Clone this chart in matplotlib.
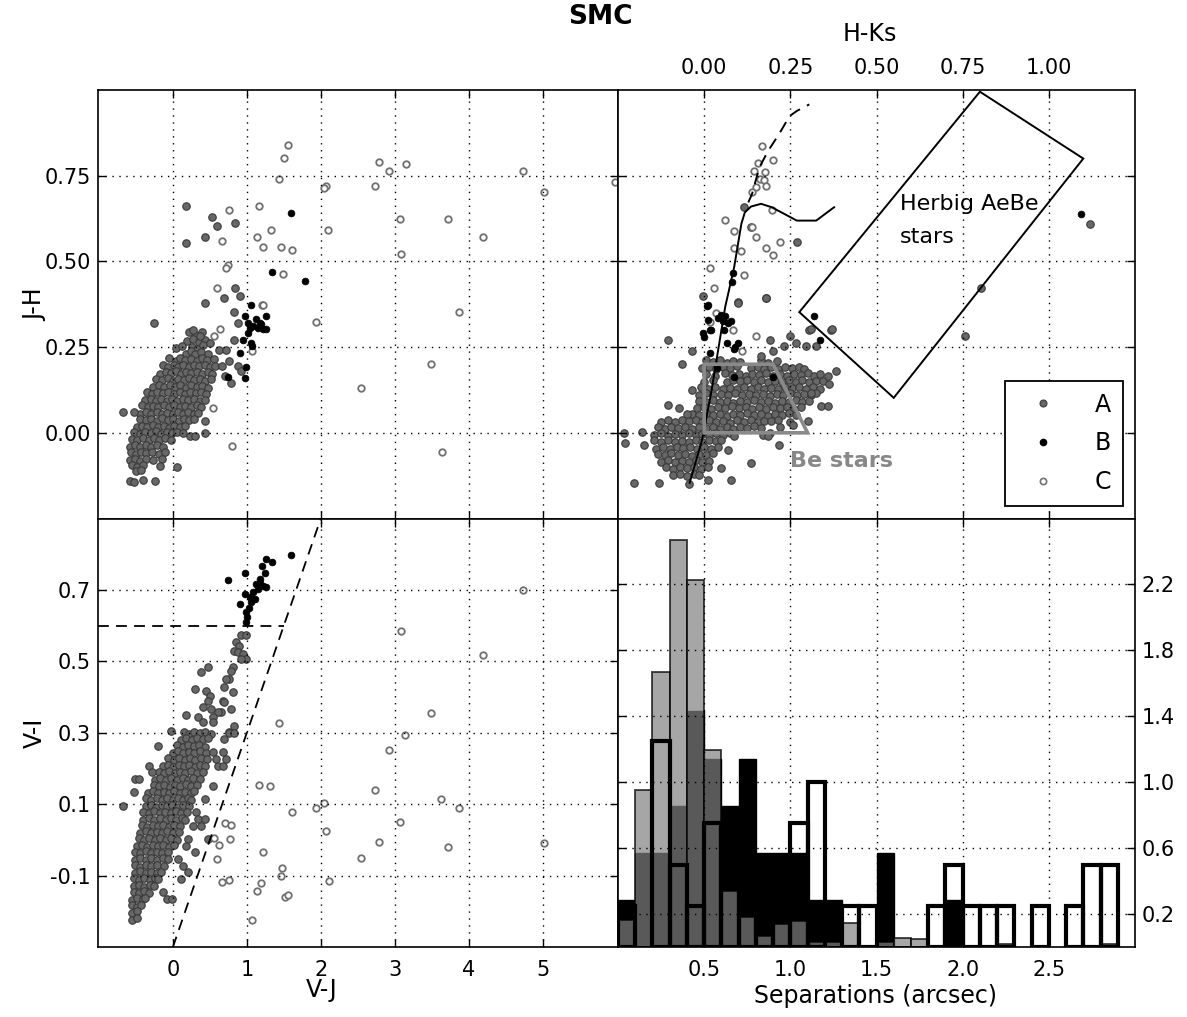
import numpy as np
import matplotlib
matplotlib.use('Agg')
import matplotlib.pyplot as plt
from matplotlib.lines import Line2D
from matplotlib.patches import Polygon

plt.rcParams['font.family'] = ['DejaVu Sans']
plt.rcParams['axes.unicode_minus'] = False

# ---------------- top-left panel: V-J vs J-H ----------------
tl_A = [
    (0.22, 0.293), (0.31, 0.286), (0.39, 0.295),
    (0.19, 0.268), (0.27, 0.274), (0.35, 0.266), (0.43, 0.272),
    (0.04, 0.247), (0.12, 0.254), (0.26, 0.251), (0.33, 0.245), (0.41, 0.256),
    (0.18, 0.230), (0.24, 0.238), (0.30, 0.229), (0.38, 0.236), (0.47, 0.231),
    (-0.05, 0.217), (0.04, 0.210), (0.10, 0.219), (0.16, 0.212), (0.25, 0.216), (0.32, 0.209), (0.39, 0.218), (0.46, 0.212), (0.55, 0.216),
    (-0.14, 0.197), (-0.07, 0.192), (0.01, 0.199), (0.07, 0.193), (0.14, 0.198), (0.22, 0.191), (0.28, 0.197), (0.35, 0.194), (0.43, 0.199), (0.50, 0.191), (0.57, 0.196),
    (-0.18, 0.172), (-0.10, 0.178), (-0.03, 0.174), (0.04, 0.179), (0.11, 0.171), (0.18, 0.177), (0.25, 0.173), (0.33, 0.178), (0.40, 0.172), (0.47, 0.176), (0.53, 0.171),
    (-0.23, 0.158), (-0.15, 0.153), (-0.07, 0.159), (0.00, 0.152), (0.07, 0.157), (0.15, 0.154), (0.22, 0.160), (0.29, 0.153), (0.36, 0.158), (0.43, 0.152), (0.51, 0.157),
    (-0.27, 0.133), (-0.19, 0.139), (-0.12, 0.134), (-0.04, 0.140), (0.03, 0.133), (0.10, 0.138), (0.18, 0.132), (0.25, 0.139), (0.32, 0.134), (0.40, 0.137), (0.47, 0.131),
    (-0.35, 0.119), (-0.28, 0.114), (-0.21, 0.120), (-0.13, 0.115), (-0.06, 0.119), (0.02, 0.113), (0.09, 0.118), (0.16, 0.114), (0.23, 0.120), (0.31, 0.115), (0.38, 0.119), (0.45, 0.114),
    (-0.38, 0.095), (-0.30, 0.100), (-0.23, 0.094), (-0.16, 0.099), (-0.08, 0.093), (-0.01, 0.098), (0.06, 0.094), (0.14, 0.100), (0.21, 0.095), (0.28, 0.099), (0.36, 0.093), (0.43, 0.097),
    (-0.42, 0.080), (-0.34, 0.075), (-0.27, 0.079), (-0.20, 0.074), (-0.12, 0.081), (-0.05, 0.076), (0.02, 0.080), (0.10, 0.074), (0.17, 0.079), (0.24, 0.075), (0.32, 0.080), (0.38, 0.076),
    (-0.45, 0.056), (-0.37, 0.061), (-0.30, 0.055), (-0.22, 0.060), (-0.15, 0.054), (-0.08, 0.059), (0.00, 0.055), (0.07, 0.061), (0.14, 0.056), (0.21, 0.060), (0.28, 0.054), (0.34, 0.058),
    (-0.44, 0.041), (-0.37, 0.036), (-0.29, 0.040), (-0.22, 0.035), (-0.15, 0.042), (-0.07, 0.037), (0.00, 0.041), (0.08, 0.035), (0.15, 0.040), (0.22, 0.036), (0.29, 0.041),
    (-0.49, 0.016), (-0.42, 0.021), (-0.35, 0.017), (-0.27, 0.022), (-0.20, 0.016), (-0.12, 0.020), (-0.05, 0.015), (0.02, 0.021), (0.10, 0.017), (0.17, 0.020),
    (-0.52, 0.002), (-0.45, -0.003), (-0.38, 0.003), (-0.30, -0.002), (-0.23, 0.004), (-0.16, -0.003), (-0.08, 0.002), (-0.01, -0.002), (0.06, 0.003), (0.13, -0.001),
    (-0.55, -0.017), (-0.48, -0.022), (-0.41, -0.016), (-0.33, -0.021), (-0.26, -0.015), (-0.19, -0.020), (-0.11, -0.016), (-0.03, -0.022),
    (-0.58, -0.041), (-0.51, -0.036), (-0.44, -0.042), (-0.37, -0.037), (-0.29, -0.041), (-0.21, -0.036), (-0.13, -0.040),
    (-0.57, -0.056), (-0.50, -0.061), (-0.43, -0.055), (-0.36, -0.060), (-0.28, -0.056), (-0.19, -0.061), (-0.11, -0.055),
    (-0.58, -0.080), (-0.51, -0.075), (-0.44, -0.081), (-0.36, -0.076), (-0.27, -0.079), (-0.15, -0.077),
    (-0.55, -0.095), (-0.48, -0.100), (-0.40, -0.094), (-0.17, -0.098),
    (-0.50, -0.112), (-0.43, -0.108),
    (-0.58, -0.141), (-0.53, -0.143), (-0.40, -0.139), (-0.24, -0.140),
    (0.44, 0.379), (0.83, 0.352), (0.875, 0.321), (0.83, 0.27), (0.27, 0.30), (-0.26, 0.321),
    (0.36, 0.282), (0.63, 0.241), (0.72, 0.241), (0.67, 0.195), (0.70, 0.165), (0.79, 0.146),
    (0.76, 0.209), (0.875, 0.195), (0.92, 0.18), (0.50, 0.263), (-0.68, 0.06), (-0.52, 0.06),
    (0.06, -0.10), (0.44, 0.0), (0.23, -0.01), (0.30, -0.01), (0.44, 0.034),
    (0.18, 0.662), (0.18, 0.553), (0.53, 0.63), (0.60, 0.603), (0.835, 0.611), (0.438, 0.572),
    (0.835, 0.423), (0.69, 0.392), (0.907, 0.40),
]
tl_B = [
    (1.593, 0.642), (1.340, 0.470), (1.792, 0.444), (1.051, 0.373), (0.979, 0.341), (1.254, 0.341),
    (1.173, 0.321), (1.083, 0.311), (1.218, 0.304), (1.264, 0.304), (1.015, 0.292), (0.948, 0.270),
    (1.060, 0.263), (1.074, 0.253), (0.903, 0.232), (0.993, 0.193), (0.745, 0.162), (0.979, 0.161),
    (1.015, 0.321), (1.128, 0.331), (1.196, 0.316), (1.151, 0.306), (1.038, 0.306),
]
tl_C = [
    (1.557, 0.841), (1.503, 0.803), (1.431, 0.740), (2.784, 0.791), (2.924, 0.764), (3.150, 0.783),
    (4.729, 0.764), (5.979, 0.733), (2.730, 0.721), (2.076, 0.721), (2.040, 0.713), (5.023, 0.701),
    (1.160, 0.663), (0.763, 0.650), (0.668, 0.560), (3.069, 0.623), (3.723, 0.623), (2.098, 0.591),
    (1.322, 0.591), (1.142, 0.572), (1.214, 0.541), (1.467, 0.541), (1.611, 0.533), (3.091, 0.521),
    (4.188, 0.572), (0.745, 0.490), (0.722, 0.482), (1.485, 0.463), (0.600, 0.423), (3.867, 0.353),
    (1.936, 0.322), (1.200, 0.373), (1.215, 0.373), (0.632, 0.303), (0.560, 0.283), (1.070, 0.240),
    (3.488, 0.201), (2.550, 0.130), (0.537, 0.071), (0.799, -0.038), (3.633, -0.057),
]

# ---------------- bottom-left panel: V-J vs V-I ----------------
bl_A = [
    (0.92, 0.574), (0.987, 0.574), (0.853, 0.553), (0.897, 0.544), (0.83, 0.53), (0.875, 0.525),
    (0.942, 0.52), (0.987, 0.507), (0.92, 0.507), (0.808, 0.483), (0.786, 0.474), (0.763, 0.451),
    (0.719, 0.451), (0.473, 0.483), (0.384, 0.471), (0.696, 0.427), (0.808, 0.413), (0.295, 0.423),
    (0.451, 0.418), (0.496, 0.404), (0.473, 0.39), (0.674, 0.39), (0.696, 0.385), (0.518, 0.367),
    (0.406, 0.371), (0.652, 0.357), (0.607, 0.357), (0.786, 0.367), (0.54, 0.343), (0.83, 0.32),
    (0.763, 0.301), (0.183, 0.35), (0.339, 0.343), (0.406, 0.329), (0.54, 0.329),
    (0.15, 0.302), (0.22, 0.297), (0.29, 0.303), (0.36, 0.298), (0.44, 0.301), (0.52, 0.296),
    (0.11, 0.281), (0.18, 0.286), (0.26, 0.280), (0.33, 0.285), (0.41, 0.282), (0.48, 0.286),
    (0.06, 0.266), (0.13, 0.261), (0.21, 0.267), (0.28, 0.262), (0.35, 0.266), (0.43, 0.261),
    (0.00, 0.243), (0.07, 0.248), (0.14, 0.242), (0.22, 0.247), (0.29, 0.243), (0.37, 0.248), (0.45, 0.244),
    (-0.06, 0.229), (0.01, 0.224), (0.08, 0.230), (0.16, 0.225), (0.23, 0.229), (0.30, 0.224), (0.38, 0.230), (0.46, 0.226),
    (-0.14, 0.206), (-0.07, 0.211), (0.00, 0.205), (0.08, 0.210), (0.15, 0.206), (0.22, 0.211), (0.30, 0.205), (0.37, 0.210), (0.43, 0.206),
    (-0.19, 0.191), (-0.12, 0.186), (-0.05, 0.192), (0.03, 0.187), (0.10, 0.191), (0.17, 0.186), (0.25, 0.192), (0.32, 0.187), (0.41, 0.190),
    (-0.24, 0.169), (-0.17, 0.174), (-0.09, 0.168), (-0.02, 0.173), (0.05, 0.169), (0.13, 0.174), (0.20, 0.168), (0.27, 0.173), (0.36, 0.170),
    (-0.26, 0.155), (-0.19, 0.150), (-0.12, 0.155), (-0.04, 0.149), (0.03, 0.154), (0.10, 0.150), (0.18, 0.156), (0.25, 0.150), (0.33, 0.154),
    (-0.34, 0.131), (-0.27, 0.136), (-0.20, 0.130), (-0.12, 0.135), (-0.05, 0.131), (0.02, 0.136), (0.10, 0.130), (0.17, 0.135), (0.24, 0.131), (0.29, 0.136),
    (-0.37, 0.117), (-0.30, 0.112), (-0.22, 0.118), (-0.15, 0.113), (-0.08, 0.117), (0.00, 0.112), (0.07, 0.118), (0.14, 0.113), (0.21, 0.117), (0.25, 0.112),
    (-0.37, 0.094), (-0.30, 0.099), (-0.23, 0.093), (-0.15, 0.098), (-0.08, 0.094), (-0.01, 0.099), (0.07, 0.093), (0.14, 0.098), (0.22, 0.095),
    (-0.40, 0.079), (-0.33, 0.074), (-0.25, 0.080), (-0.18, 0.075), (-0.11, 0.079), (-0.03, 0.074), (0.04, 0.080), (0.11, 0.075), (0.19, 0.079),
    (-0.40, 0.057), (-0.32, 0.062), (-0.25, 0.056), (-0.18, 0.061), (-0.10, 0.057), (-0.03, 0.062), (0.04, 0.056), (0.12, 0.061), (0.16, 0.057),
    (-0.42, 0.042), (-0.35, 0.037), (-0.27, 0.043), (-0.20, 0.038), (-0.13, 0.042), (-0.05, 0.037), (0.02, 0.043), (0.10, 0.038),
    (-0.44, 0.019), (-0.37, 0.024), (-0.30, 0.018), (-0.22, 0.023), (-0.15, 0.019), (-0.08, 0.024), (0.00, 0.018), (0.08, 0.022),
    (-0.46, 0.005), (-0.39, 0.000), (-0.32, 0.006), (-0.24, 0.001), (-0.17, 0.005), (-0.10, 0.000), (-0.02, 0.006), (0.06, 0.001),
    (-0.49, -0.018), (-0.42, -0.013), (-0.35, -0.019), (-0.27, -0.014), (-0.20, -0.018), (-0.13, -0.013), (-0.05, -0.019), (0.02, -0.015),
    (-0.51, -0.033), (-0.44, -0.038), (-0.37, -0.032), (-0.29, -0.037), (-0.22, -0.033), (-0.15, -0.038), (-0.06, -0.034),
    (-0.51, -0.055), (-0.44, -0.050), (-0.36, -0.056), (-0.29, -0.051), (-0.22, -0.055), (-0.14, -0.050), (-0.07, -0.054),
    (-0.51, -0.070), (-0.44, -0.075), (-0.37, -0.069), (-0.29, -0.074), (-0.21, -0.070), (-0.12, -0.073),
    (-0.51, -0.093), (-0.44, -0.088), (-0.37, -0.094), (-0.29, -0.089), (-0.22, -0.093), (-0.16, -0.089),
    (-0.53, -0.107), (-0.46, -0.112), (-0.39, -0.106), (-0.31, -0.111), (-0.24, -0.107), (-0.20, -0.110),
    (-0.53, -0.130), (-0.46, -0.125), (-0.39, -0.131), (-0.31, -0.126), (-0.26, -0.129),
    (-0.53, -0.145), (-0.46, -0.150), (-0.39, -0.144), (-0.33, -0.148),
    (-0.55, -0.167), (-0.48, -0.162), (-0.41, -0.166), (-0.38, -0.163),
    (-0.55, -0.182), (-0.48, -0.187), (-0.43, -0.183),
    (-0.55, -0.205), (-0.48, -0.200),
    (-0.55, -0.223), (-0.49, -0.219),
    (0.763, 0.30), (0.83, 0.30), (-0.027, 0.305), (0.696, 0.283), (-0.205, 0.264), (0.674, 0.245),
    (0.54, 0.245), (0.719, 0.227), (0.585, 0.227), (0.607, 0.208), (0.674, 0.208), (-0.33, 0.208),
    (-0.286, 0.189), (-0.51, 0.171), (-0.455, 0.171), (0.54, 0.152), (-0.53, 0.133), (0.43, 0.115),
    (-0.68, 0.096), (0.317, 0.077), (0.34, 0.059), (0.43, 0.059), (0.27, 0.04), (0.384, 0.04),
    (0.205, 0.003), (0.473, 0.003), (0.183, -0.016), (0.295, -0.035), (0.071, -0.053), (0.138, -0.072),
    (0.205, -0.091), (0.116, -0.109), (-0.13, -0.147), (-0.085, -0.165), (-0.018, -0.165),
]
bl_B = [
    (1.593, 0.797), (1.254, 0.786), (1.340, 0.778), (1.209, 0.767), (0.979, 0.748), (0.745, 0.729),
    (1.241, 0.748), (1.173, 0.730), (1.128, 0.716), (1.218, 0.711), (1.151, 0.702), (1.083, 0.693),
    (1.038, 0.681), (1.106, 0.674), (0.970, 0.688), (0.903, 0.660), (1.029, 0.648), (0.993, 0.637),
    (1.002, 0.623), (0.993, 0.610), (1.173, 0.720), (1.264, 0.707), (1.060, 0.665),
]
bl_C = [
    (4.73, 0.70), (3.09, 0.586), (4.19, 0.519), (3.49, 0.354), (3.145, 0.293), (2.924, 0.252),
    (1.43, 0.328), (1.16, 0.155), (1.313, 0.152), (2.73, 0.141), (3.63, 0.114), (3.867, 0.088),
    (2.044, 0.103), (1.93, 0.088), (1.61, 0.077), (3.069, 0.051), (2.076, 0.024), (0.70, 0.047),
    (0.79, 0.042), (0.55, 0.005), (0.767, 0.002), (0.63, -0.013), (2.79, -0.005), (5.02, -0.009),
    (1.214, -0.035), (3.72, -0.021), (0.60, -0.053), (2.55, -0.051), (1.476, -0.08), (1.467, -0.10),
    (2.107, -0.114), (0.668, -0.117), (0.758, -0.111), (1.19, -0.121), (1.142, -0.144), (1.51, -0.161),
    (1.557, -0.154), (1.07, -0.223),
]

# ---------------- top-right panel: H-Ks vs J-H ----------------
tr_A = [
    (0.005, 0.212), (0.025, 0.206), (0.045, 0.211), (0.065, 0.205), (0.085, 0.210), (0.105, 0.207), (0.165, 0.211), (0.185, 0.205), (0.21, 0.209),
    (-0.005, 0.188), (0.015, 0.193), (0.035, 0.187), (0.055, 0.192), (0.075, 0.189), (0.095, 0.194), (0.135, 0.188), (0.155, 0.193),
    (0.175, 0.186), (0.195, 0.191), (0.215, 0.187), (0.235, 0.193), (0.255, 0.188), (0.275, 0.192), (0.29, 0.186),
    (0.005, 0.172), (0.03, 0.167), (0.06, 0.173), (0.08, 0.168), (0.10, 0.171), (0.12, 0.166), (0.14, 0.172), (0.16, 0.168), (0.18, 0.173),
    (0.20, 0.167), (0.22, 0.171), (0.24, 0.166), (0.26, 0.172), (0.28, 0.169), (0.30, 0.173), (0.32, 0.167), (0.335, 0.171),
    (0.0, 0.149), (0.025, 0.154), (0.065, 0.148), (0.085, 0.153), (0.105, 0.150), (0.125, 0.155), (0.145, 0.149), (0.165, 0.153),
    (0.185, 0.148), (0.205, 0.152), (0.225, 0.147), (0.245, 0.153), (0.265, 0.149), (0.285, 0.154), (0.305, 0.148), (0.325, 0.152), (0.345, 0.150),
    (-0.01, 0.133), (0.01, 0.128), (0.03, 0.134), (0.055, 0.129), (0.075, 0.132), (0.095, 0.127), (0.115, 0.133), (0.135, 0.129), (0.155, 0.134),
    (0.175, 0.128), (0.195, 0.132), (0.215, 0.127), (0.235, 0.133), (0.255, 0.130), (0.275, 0.135), (0.295, 0.129), (0.315, 0.133), (0.335, 0.128),
    (-0.015, 0.110), (0.005, 0.115), (0.025, 0.109), (0.05, 0.114), (0.07, 0.111), (0.09, 0.116), (0.11, 0.110), (0.13, 0.114), (0.15, 0.109),
    (0.17, 0.113), (0.19, 0.108), (0.21, 0.114), (0.23, 0.110), (0.25, 0.115), (0.27, 0.109), (0.29, 0.113), (0.31, 0.111), (0.325, 0.115),
    (-0.015, 0.094), (0.005, 0.089), (0.025, 0.095), (0.045, 0.090), (0.065, 0.093), (0.085, 0.088), (0.105, 0.094), (0.125, 0.090), (0.145, 0.095),
    (0.165, 0.089), (0.185, 0.093), (0.205, 0.088), (0.225, 0.094), (0.245, 0.091), (0.265, 0.096), (0.285, 0.090), (0.305, 0.094),
    (-0.02, 0.071), (0.0, 0.076), (0.02, 0.070), (0.04, 0.075), (0.06, 0.072), (0.08, 0.077), (0.10, 0.071), (0.12, 0.075),
    (0.14, 0.070), (0.16, 0.074), (0.18, 0.069), (0.20, 0.075), (0.22, 0.071), (0.24, 0.076), (0.26, 0.070), (0.28, 0.074),
    (-0.035, 0.056), (-0.015, 0.051), (0.005, 0.057), (0.025, 0.052), (0.045, 0.055), (0.065, 0.050), (0.085, 0.056), (0.105, 0.052),
    (0.125, 0.057), (0.145, 0.051), (0.165, 0.055), (0.185, 0.050), (0.205, 0.056), (0.225, 0.053), (0.245, 0.058), (0.265, 0.052),
    (-0.125, 0.032), (-0.105, 0.037), (-0.085, 0.031), (-0.065, 0.036), (-0.045, 0.033), (-0.025, 0.038), (-0.005, 0.032), (0.015, 0.036),
    (0.035, 0.031), (0.055, 0.035), (0.075, 0.030), (0.095, 0.036), (0.115, 0.032), (0.135, 0.037), (0.155, 0.031), (0.175, 0.035),
    (0.195, 0.033), (0.215, 0.037), (0.25, 0.032),
    (-0.135, 0.017), (-0.115, 0.012), (-0.095, 0.018), (-0.075, 0.013), (-0.055, 0.016), (-0.035, 0.011), (-0.015, 0.017), (0.005, 0.013),
    (0.025, 0.018), (0.045, 0.012), (0.065, 0.016), (0.085, 0.011), (0.105, 0.017), (0.125, 0.014), (0.145, 0.019), (0.165, 0.013), (0.22, 0.016),
    (-0.145, -0.007), (-0.125, -0.002), (-0.105, -0.008), (-0.085, -0.003), (-0.065, -0.006), (-0.045, -0.001), (-0.025, -0.007),
    (-0.005, -0.003), (0.015, -0.008), (0.035, -0.002), (0.055, -0.006), (0.075, -0.001), (0.17, -0.007), (0.19, -0.002),
    (-0.145, -0.022), (-0.125, -0.027), (-0.105, -0.021), (-0.085, -0.026), (-0.065, -0.023), (-0.045, -0.028), (-0.025, -0.022),
    (-0.005, -0.026), (0.015, -0.021), (0.035, -0.025), (0.05, -0.020),
    (-0.14, -0.046), (-0.12, -0.041), (-0.10, -0.047), (-0.08, -0.042), (-0.06, -0.045), (-0.04, -0.040), (-0.02, -0.046), (0.0, -0.042),
    (0.02, -0.047), (0.04, -0.041),
    (-0.135, -0.061), (-0.115, -0.066), (-0.095, -0.060), (-0.075, -0.065), (-0.055, -0.062), (-0.035, -0.067), (-0.015, -0.061),
    (0.005, -0.065), (0.025, -0.060),
    (-0.125, -0.085), (-0.105, -0.080), (-0.085, -0.086), (-0.065, -0.081), (-0.045, -0.084), (-0.025, -0.079), (-0.005, -0.085), (0.015, -0.081),
    (-0.11, -0.100), (-0.09, -0.105), (-0.07, -0.099), (-0.05, -0.104), (-0.03, -0.101), (-0.01, -0.106), (0.01, -0.100),
    (-0.09, -0.124), (-0.07, -0.119), (-0.05, -0.125), (-0.03, -0.120), (-0.015, -0.123),
    (-0.003, 0.40), (0.098, 0.381), (0.18, 0.394), (-0.104, 0.272), (-0.035, 0.24), (-0.065, 0.20),
    (-0.035, 0.126), (-0.104, 0.08), (-0.072, 0.073), (-0.051, 0.054), (-0.234, 0.0), (-0.18, 0.002),
    (-0.23, -0.03), (-0.176, -0.037), (-0.205, -0.146), (-0.131, -0.146), (-0.044, -0.148), (0.01, -0.138),
    (0.079, -0.138), (0.137, -0.088), (0.218, -0.037), (0.069, -0.049), (0.048, -0.102), (0.19, 0.272),
    (0.25, 0.282), (0.266, 0.263), (0.295, 0.253), (0.305, 0.30), (0.367, 0.30), (0.324, 0.253),
    (0.233, 0.253), (0.199, 0.238), (0.165, 0.224), (0.338, 0.078), (0.358, 0.078), (0.363, 0.141),
    (0.358, 0.165), (0.382, 0.18), (0.31, 0.117), (0.257, 0.024), (0.30, 0.034), (0.185, -0.01),
    (0.088, -0.01), (0.757, 0.283), (0.802, 0.421), (1.12, 0.608), (0.37, 0.302), (0.31, 0.302),
    (0.269, 0.557), (0.18, 0.393), (0.097, 0.38), (0.115, 0.659), (0.136, 0.60),
]
tr_B = [
    (0.01, 0.374), (-0.003, 0.292), (0.016, 0.30), (0.021, 0.30), (0.01, 0.33), (0.04, 0.336),
    (0.05, 0.345), (0.06, 0.34), (0.079, 0.326), (0.055, 0.326), (0.069, 0.321), (0.016, 0.233),
    (0.067, 0.263), (0.087, 0.243), (0.098, 0.263), (0.036, 0.19), (0.087, 0.163), (0.199, 0.163),
    (0.319, 0.342), (0.337, 0.27), (0.058, 0.30), (0.084, 0.467), (0.081, 0.44), (0.008, 0.371),
    (1.094, 0.639), (0.0, 0.28), (0.09, 0.25),
]
tr_C = [
    (0.168, 0.838), (0.157, 0.787), (0.199, 0.797), (0.177, 0.761), (0.163, 0.741), (0.173, 0.736),
    (0.149, 0.717), (0.18, 0.719), (0.139, 0.702), (0.198, 0.649), (0.059, 0.62), (0.087, 0.589),
    (0.139, 0.60), (0.149, 0.571), (0.22, 0.557), (0.18, 0.538), (0.106, 0.531), (0.199, 0.52),
    (0.087, 0.54), (0.115, 0.46), (0.017, 0.48), (0.028, 0.421), (0.017, 0.324), (0.149, 0.281),
    (0.11, 0.24), (0.144, 0.765), (0.033, 0.35), (0.084, 0.30),
]

# tracks in the colour-colour diagram
track_hk = [-0.042, -0.006, 0.020, 0.061, 0.087, 0.108, 0.118, 0.136, 0.165, 0.196, 0.269, 0.325, 0.377]
track_jh = [-0.146, -0.020, 0.115, 0.367, 0.483, 0.610, 0.643, 0.660, 0.668, 0.658, 0.619, 0.619, 0.658]
dtrack_hk = [0.128, 0.139, 0.160, 0.186, 0.217, 0.248, 0.269, 0.305]
dtrack_jh = [0.672, 0.697, 0.774, 0.823, 0.871, 0.924, 0.939, 0.958]
herbig_hk = [0.276, 0.80, 1.10, 0.55]
herbig_jh = [0.352, 0.995, 0.80, 0.102]
be_hk = [0.0, 0.2, 0.3, 0.0]
be_jh = [0.2, 0.2, 0.0, 0.0]

# ---------------- histogram of separations ----------------
sep_bin_left = [round(0.1 * i, 1) for i in range(29)]
hist_A = [0.164, 0.954, 1.671, 2.467, 2.224, 1.194, 0.341, 0.18, 0.069, 0.139, 0.156, 0.032, 0.032,
          0.143, 0.0, 0.032, 0.055, 0.05, 0.0, 0.0, 0.0, 0.0, 0.017, 0.0, 0.0, 0.0, 0.0, 0.0, 0.017]
hist_B = [0.286, 0.571, 0.571, 0.857, 1.429, 1.143, 0.857, 1.143, 0.571, 0.571, 0.571, 0.286, 0.286,
          0.0, 0.0, 0.571, 0.0, 0.0, 0.0, 0.286, 0.0, 0.0, 0.0, 0.0, 0.0, 0.0, 0.0, 0.0, 0.0]
hist_C = [0.25, 0.0, 1.25, 0.5, 0.25, 0.75, 0.75, 0.5, 0.25, 0.25, 0.75, 1.0, 0.0,
          0.25, 0.25, 0.0, 0.0, 0.0, 0.25, 0.5, 0.25, 0.25, 0.25, 0.0, 0.25, 0.0, 0.25, 0.5, 0.5]

# ---------------- styles ----------------
A_kw = dict(s=29, facecolor='#676767', edgecolor='#3a3a3a', linewidths=0.8, zorder=1)
B_kw = dict(s=23, facecolor='black', edgecolor='black', linewidths=0.6, zorder=1.2)
C_kw = dict(s=22, facecolor='white', edgecolor='#707070', linewidths=1.3, zorder=1.1)
grid_kw = dict(color='black', linestyle=(0, (1, 4)), linewidth=1.0)

W, H = 1187, 1017
fig = plt.figure(figsize=(W / 100, H / 100), dpi=100)
gs = fig.add_gridspec(2, 2, left=97.5 / W, right=1135 / W, top=1 - 90 / H, bottom=1 - 947 / H,
                      wspace=0, hspace=0, width_ratios=[520.5, 517])
ax1 = fig.add_subplot(gs[0, 0])
ax3 = fig.add_subplot(gs[1, 0], sharex=ax1)
ax2 = fig.add_subplot(gs[0, 1], sharey=ax1)
ax4 = fig.add_subplot(gs[1, 1])

for ax in (ax1, ax2, ax3, ax4):
    ax.tick_params(direction='in', length=6, width=1, top=True, bottom=True, left=True, right=True,
                   labelsize=15)
    ax.tick_params(axis='x', pad=9)
    ax.tick_params(axis='y', pad=5)
    ax.grid(True, **grid_kw)
    ax.set_axisbelow(False)
    for sp in ax.spines.values():
        sp.set_linewidth(1.2)


def xy(pairs):
    return [p[0] for p in pairs], [p[1] for p in pairs]


# top-left
for pts, kw in ((tl_A, A_kw), (tl_C, C_kw), (tl_B, B_kw)):
    x, y = xy(pts)
    ax1.scatter(x, y, **kw)
ax1.set_xlim(-1.02, 6.02)
ax1.set_ylim(-0.25, 1.0)
ax1.set_xticks([0, 1, 2, 3, 4, 5])
ax1.set_yticks([0.0, 0.25, 0.5, 0.75])
ax1.set_yticklabels(['0.00', '0.25', '0.50', '0.75'])
ax1.tick_params(labelbottom=False)

# bottom-left
for pts, kw in ((bl_A, A_kw), (bl_C, C_kw), (bl_B, B_kw)):
    x, y = xy(pts)
    ax3.scatter(x, y, **kw)
ax3.plot([-1.02, 1.5], [0.6, 0.6], color='black', linestyle=(0, (6, 4)), linewidth=1.3, zorder=3)
ax3.plot([0.0, 2.0], [-0.3, 0.9], color='black', linestyle=(0, (6, 4)), linewidth=1.3, zorder=3)
ax3.set_ylim(-0.3, 0.9)
ax3.set_yticks([-0.1, 0.1, 0.3, 0.5, 0.7])
ax3.set_yticklabels(['-0.1', '0.1', '0.3', '0.5', '0.7'])
ax3.set_xticklabels(['0', '1', '2', '3', '4', '5'])

# top-right
for pts, kw in ((tr_A, A_kw), (tr_C, C_kw), (tr_B, B_kw)):
    x, y = xy(pts)
    ax2.scatter(x, y, **kw)
ax2.plot(track_hk, track_jh, color='black', linewidth=1.4, zorder=3)
ax2.plot(dtrack_hk, dtrack_jh, color='black', linewidth=1.4, linestyle=(0, (6, 4)), zorder=3)
ax2.add_patch(Polygon(list(zip(herbig_hk, herbig_jh)), closed=True, fill=False, edgecolor='black',
                      linewidth=1.4, zorder=3))
ax2.add_patch(Polygon(list(zip(be_hk, be_jh)), closed=True, fill=False, edgecolor='#8a8a8a',
                      linewidth=2.6, zorder=3))
ax2.text(0.569, 0.651, 'Herbig AeBe', fontsize=16, va='baseline', ha='left', zorder=4)
ax2.text(0.569, 0.555, 'stars', fontsize=16, va='baseline', ha='left', zorder=4)
ax2.text(0.249, -0.10, 'Be stars', fontsize=16, fontweight='bold', color='#888888',
         va='baseline', ha='left', zorder=4)
ax2.set_xlim(-0.25, 1.25)
ax2.set_xticks([0.0, 0.25, 0.5, 0.75, 1.0])
ax2.set_xticklabels(['0.00', '0.25', '0.50', '0.75', '1.00'])
ax2.tick_params(labelleft=False, labelbottom=False, labeltop=True)

handles = [
    Line2D([], [], linestyle='none', marker='o', markersize=5, markerfacecolor='#676767',
           markeredgecolor='#3a3a3a', markeredgewidth=0.8),
    Line2D([], [], linestyle='none', marker='o', markersize=4.5, markerfacecolor='black',
           markeredgecolor='black'),
    Line2D([], [], linestyle='none', marker='o', markersize=4.5, markerfacecolor='white',
           markeredgecolor='#707070', markeredgewidth=1.2),
]
leg = ax2.legend(handles, ['A', 'B', 'C'], loc='lower right', bbox_to_anchor=(0.977, 0.030),
                 fontsize=17, frameon=True, fancybox=False, framealpha=1, edgecolor='black',
                 borderpad=0.5, labelspacing=0.62, handlelength=2.2, handletextpad=1.1,
                 borderaxespad=0.0, numpoints=1)
leg.get_frame().set_linewidth(1.3)
leg.set_zorder(5)

# bottom-right histogram
lefts = np.array(sep_bin_left)
for h, kw in ((hist_B, dict(color='black', edgecolor='black', linewidth=1.0, zorder=1)),
              (hist_A, dict(color='gray', alpha=0.7, edgecolor='black', linewidth=1.4, zorder=1.1)),
              (hist_C, dict(fill=False, edgecolor='black', linewidth=3.0, zorder=1.2))):
    h = np.array(h)
    m = h > 0
    ax4.bar(lefts[m], h[m], width=0.1, align='edge', **kw)
ax4.set_xlim(0, 3.0)
ax4.set_ylim(0, 2.6)
ax4.set_xticks([0.5, 1.0, 1.5, 2.0, 2.5])
ax4.set_xticklabels(['0.5', '1.0', '1.5', '2.0', '2.5'])
ax4.set_yticks([0.2, 0.6, 1.0, 1.4, 1.8, 2.2])
ax4.set_yticklabels(['0.2', '0.6', '1.0', '1.4', '1.8', '2.2'])
ax4.tick_params(labelleft=False, labelright=True)

# labels and title
fig.text(35 / W, 1 - 305 / H, 'J-H', rotation=90, ha='center', va='center', fontsize=17)
fig.text(35 / W, 1 - 733 / H, 'V-I', rotation=90, ha='center', va='center', fontsize=17)
fig.text(322 / W, 1 - 990 / H, 'V-J', ha='center', va='center', fontsize=17)
fig.text(876 / W, 1 - 996 / H, 'Separations (arcsec)', ha='center', va='center', fontsize=17)
fig.text(870 / W, 1 - 34 / H, 'H-Ks', ha='center', va='center', fontsize=17)
fig.text(600 / W, 1 - 17 / H, 'SMC', ha='center', va='center', fontsize=19, fontweight='bold')

fig.savefig('out.png', dpi=100, facecolor='white')
